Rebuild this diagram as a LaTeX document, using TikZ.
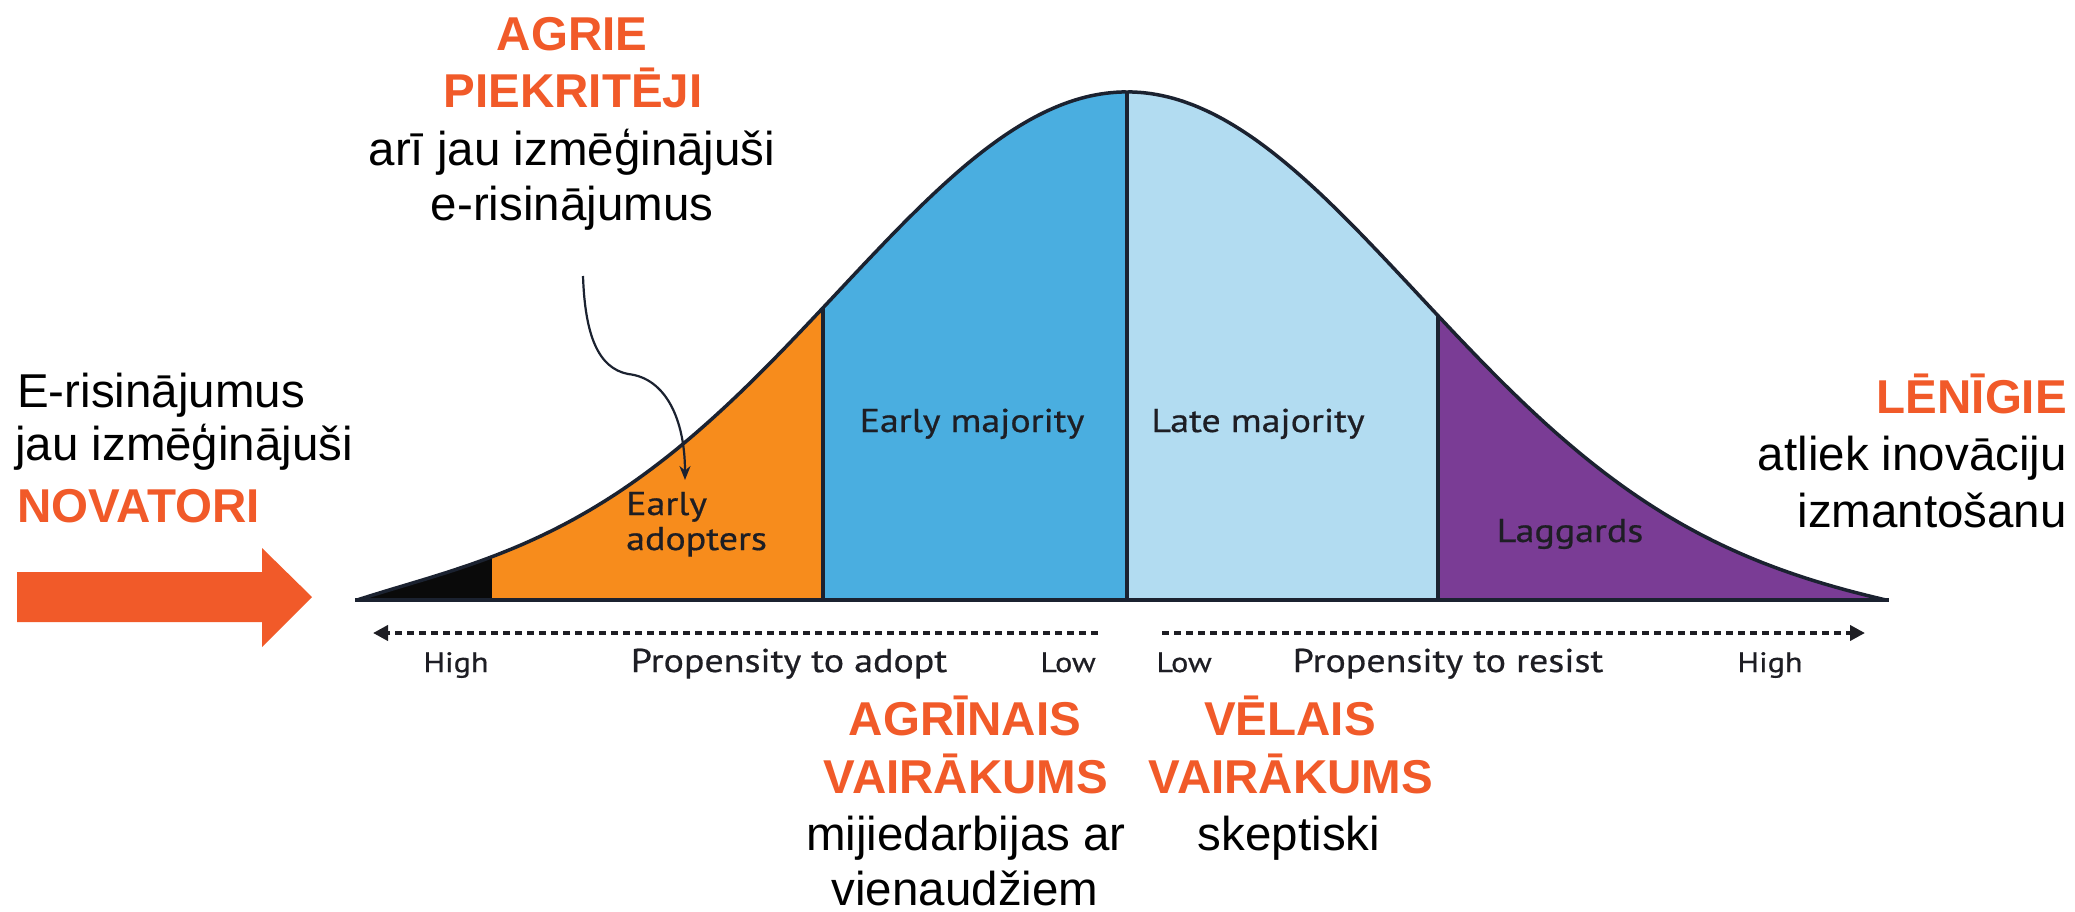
\documentclass[tikz,border=0pt]{standalone}
\usepackage{fontspec}
\setmainfont{Liberation Sans}
\newfontfamily\chartfont[FakeStretch=1.15,FakeBold=0.6]{PT Sans}
\usetikzlibrary{arrows.meta}
\definecolor{accent}{HTML}{F15A29}
\definecolor{cblack}{HTML}{0A0A0A}
\definecolor{corange}{HTML}{F78C1C}
\definecolor{cblue}{HTML}{4AAEE0}
\definecolor{clight}{HTML}{B2DCF1}
\definecolor{cpurple}{HTML}{7A3C95}
\definecolor{cline}{HTML}{1B2230}
\definecolor{ctext}{HTML}{1E1E24}
\begin{document}
\begin{tikzpicture}[x=1pt,y=-1pt,
  declare function={
    ul(\x)=(1127-\x)/289; ur(\x)=(\x-1127)/289;
    tl(\x)=(1127-\x)/770; tr(\x)=(\x-1127)/759;
    bl(\x)=600-(508*exp(-0.5*ul(\x)*ul(\x))-14.6*tl(\x)*tl(\x)*tl(\x)*tl(\x)*tl(\x)*tl(\x)*tl(\x)*tl(\x)*tl(\x)*tl(\x));
    br(\x)=600-(508*exp(-0.5*ur(\x)*ur(\x))-16.1*tr(\x)*tr(\x)*tr(\x)*tr(\x));
  },
  big/.style={font=\fontsize{47.5}{56}\selectfont, anchor=base, inner sep=0pt},
  hot/.style={big, font=\fontsize{47.5}{56}\selectfont\bfseries, text=accent},
  chart/.style={font=\chartfont\fontsize{33}{38}\selectfont, text=ctext, anchor=base, inner sep=0pt},
  small/.style={chart, font=\chartfont\fontsize{28}{32}\selectfont},
  axis/.style={line width=4pt, ctext, dash pattern=on 7pt off 5pt, -{Triangle[length=15pt,width=15pt]}},
  divider/.style={line width=3.5pt, cline},
]
\useasboundingbox (0,0) rectangle (2075,911);
\fill[white] (0,0) rectangle (2075,911);

% --- bell curve regions
\fill[cblack] (357,600) -- plot[domain=357:492,samples=40] (\x,{bl(\x)}) -- (492,600) -- cycle;
\fill[corange] (492,600) -- plot[domain=492:823,samples=60] (\x,{bl(\x)}) -- (823,600) -- cycle;
\fill[cblue] (823,600) -- plot[domain=823:1127,samples=60] (\x,{bl(\x)}) -- (1127,600) -- cycle;
\fill[clight] (1127,600) -- plot[domain=1127:1438,samples=60] (\x,{br(\x)}) -- (1438,600) -- cycle;
\fill[cpurple] (1438,600) -- plot[domain=1438:1886,samples=80] (\x,{br(\x)}) -- (1886,600) -- cycle;
\draw[line width=3.5pt, cline, line join=round]
  plot[domain=357:1127,samples=150] (\x,{bl(\x)}) -- plot[domain=1127:1886,samples=150] (\x,{br(\x)});
\draw[line width=4.5pt, cline] (355,600) -- (1889,600);
\draw[divider] (823,600) -- (823,{bl(823)});
\draw[divider] (1127,600) -- (1127,{bl(1127)});
\draw[divider] (1438,600) -- (1438,{br(1438)});

% --- labels inside the curve
\node[chart] (em) at (972,432) {Early majority};
\node[chart] (lm) at (1258,432) {Late majority};
\node[chart] (lg) at (1570,542) {Laggards};
\node[chart, anchor=base west] (ea1) at (626,515) {Early};
\node[chart, anchor=base west] (ea2) at (626,550) {adopters};

% --- propensity axes
\coordinate (adoptS) at (1098,633);
\coordinate (adoptE) at (373,633);
\coordinate (resistS) at (1162,633);
\coordinate (resistE) at (1865,633);
\draw[axis] (adoptS) -- (adoptE);
\draw[axis] (resistS) -- (resistE);
\node[small] (h1) at (456,672) {High};
\node[chart] (pa) at (789,672) {Propensity to adopt};
\node[small] (l1) at (1068,672) {Low};
\node[small] (l2) at (1184,672) {Low};
\node[chart] (pr) at (1448,672) {Propensity to resist};
\node[small] (h2) at (1770,672) {High};

% --- left: innovators
\node[big, anchor=base west] (nv1) at (17,407) {E-risinājumus};
\node[big, anchor=base west] (nv2) at (15,460) {jau izmēģinājuši};
\node[hot, anchor=base west] (nv3) at (17,522) {NOVATORI};
\fill[accent] (17,572) -- (262,572) -- (262,548) -- (312,597) -- (262,647) -- (262,622) -- (17,622) -- cycle;

% --- top: early adopters
\node[hot] (ag1) at (572,50) {AGRIE};
\node[hot] (ag2) at (573,107) {PIEKRITĒJI};
\node[big] (ag3) at (572,165) {arī jau izmēģinājuši};
\node[big] (ag4) at (572,220) {e-risinājumus};
\coordinate (eaStart) at (583,276);
\coordinate (eaTip) at (685,480);
\draw[line width=2.2pt, cline, -{Stealth[length=14pt,width=11pt]}]
  (eaStart) .. controls (585,335) and (598,368) .. (628,374)
  .. controls (666,378) and (685,420) .. (eaTip);

% --- bottom: early and late majority
\node[hot] (am1) at (965,735) {AGRĪNAIS};
\node[hot] (am2) at (966,793) {VAIRĀKUMS};
\node[big] (am3) at (966,850) {mijiedarbijas ar};
\node[big] (am4) at (965,905) {vienaudžiem};
\node[hot] (lv1) at (1290,735) {VĒLAIS};
\node[hot] (lv2) at (1291,793) {VAIRĀKUMS};
\node[big] (lv3) at (1289,850) {skeptiski};

% --- right: laggards
\node[hot, anchor=base east] (lz1) at (2067,413) {LĒNĪGIE};
\node[big, anchor=base east] (lz2) at (2067,470) {atliek inovāciju};
\node[big, anchor=base east] (lz3) at (2067,527) {izmantošanu};
\end{tikzpicture}
\end{document}
